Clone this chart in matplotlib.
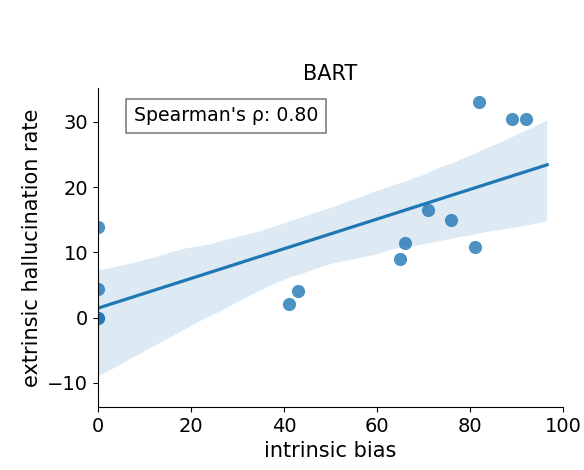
import matplotlib
matplotlib.use("Agg")
import matplotlib.pyplot as plt
import seaborn as sns
import numpy as np

# intrinsic bias vs extrinsic hallucination rate per setting
intrinsic_bias = [0, 0, 0, 0, 41, 43, 65, 66, 71, 76, 81, 82, 89, 92]
hallucination_rate = [13.9, 4.4, 0.0, 0.0, 2.1, 4.1, 9.0, 11.4, 16.5, 14.9, 10.8, 33.0, 30.4, 30.4]
spearman_rho = 0.80
model_name = "BART"

plt.rcParams["font.size"] = 14

fig = plt.figure(figsize=(5.84, 4.70), dpi=100)
ax = fig.add_axes([0.168, 0.134, 0.796, 0.679])

sns.regplot(x=np.array(intrinsic_bias), y=np.array(hallucination_rate), ax=ax,
            truncate=False, seed=7, color="#1f77b4",
            scatter_kws={"s": 90, "alpha": 0.8, "linewidths": 0},
            line_kws={"lw": 2.3})

ax.set_xlim(0, 100)
ax.set_ylim(-13.7, 35.2)
ax.set_xticks([0, 20, 40, 60, 80, 100])
ax.set_yticks([-10, 0, 10, 20, 30])
sns.despine(ax=ax)

ax.text(0.077, 0.912, f"Spearman's ρ: {spearman_rho:.2f}", transform=ax.transAxes,
        fontsize=13.6, va="center", ha="left",
        bbox=dict(boxstyle="square,pad=0.4", facecolor="white", edgecolor="gray", lw=1.2))

ax.set_title(model_name, fontsize=15)
ax.set_xlabel("intrinsic bias", fontsize=15)
ax.set_ylabel("extrinsic hallucination rate", fontsize=15)

fig.savefig("out.png", dpi=100)
